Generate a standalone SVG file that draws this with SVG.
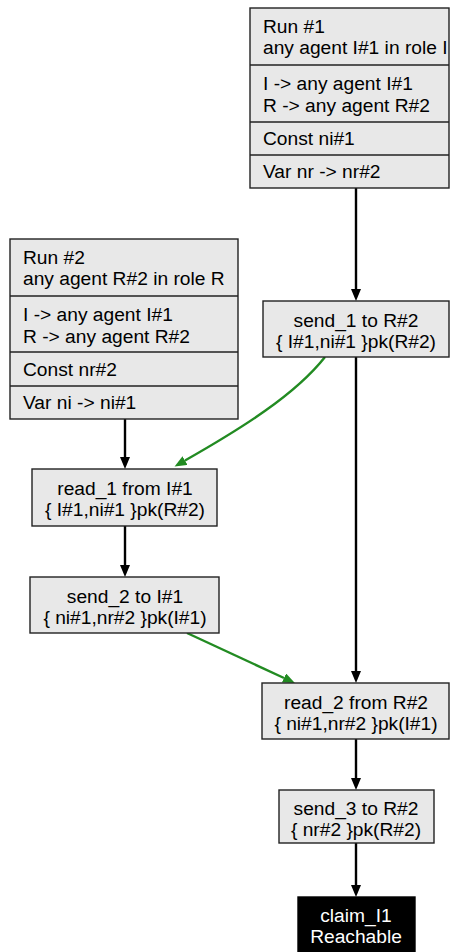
<svg xmlns="http://www.w3.org/2000/svg" width="450" height="952" viewBox="0 0 450 952">
<style>
.box{fill:#e8e8e8;stroke:#222;stroke-width:1.4}
.dark{fill:#000;stroke:#000;stroke-width:1.4}
text{font-family:"Liberation Sans",Arial,sans-serif;font-size:19.2px;fill:#000}
.c{text-anchor:middle}
.w{fill:#fff}
.e{fill:none;stroke:#000;stroke-width:2.4}
.g{fill:none;stroke:#228b22;stroke-width:2.4}
</style>
<defs>
<marker id="ab" markerUnits="userSpaceOnUse" markerWidth="13" markerHeight="11" refX="0" refY="5" orient="auto"><path d="M0,0 L12,5 L0,10 z" fill="#000"/></marker>
<marker id="ag" markerUnits="userSpaceOnUse" markerWidth="13" markerHeight="11" refX="0" refY="5" orient="auto"><path d="M0,0 L12,5 L0,10 z" fill="#228b22"/></marker>
</defs>
<g id="edges">
<path class="e" d="M356,188 V289" marker-end="url(#ab)"/>
<path class="e" d="M125,419 V457" marker-end="url(#ab)"/>
<path class="e" d="M125,526 V565" marker-end="url(#ab)"/>
<path class="e" d="M356,357 V671" marker-end="url(#ab)"/>
<path class="e" d="M356,739 V778" marker-end="url(#ab)"/>
<path class="e" d="M356,843 V885" marker-end="url(#ab)"/>
<path class="g" d="M325,357 C295,395 242,428 185,460.5" marker-end="url(#ag)"/>
<path class="g" d="M187,633 L284,678" marker-end="url(#ag)"/>
</g>
<g id="run1">
<rect class="box" x="250" y="8" width="199" height="180"/>
<path d="M250,65 H449 M250,122 H449 M250,155 H449" stroke="#222" stroke-width="1.4"/>
<text x="263" y="33">Run #1</text>
<text x="263" y="54">any agent I#1 in role I</text>
<text x="263" y="90">I -&gt; any agent I#1</text>
<text x="263" y="112">R -&gt; any agent R#2</text>
<text x="263" y="145">Const ni#1</text>
<text x="263" y="178">Var nr -&gt; nr#2</text>
</g>
<g id="run2">
<rect class="box" x="10" y="239" width="228" height="180"/>
<path d="M10,296 H238 M10,352 H238 M10,386 H238" stroke="#222" stroke-width="1.4"/>
<text x="23" y="264">Run #2</text>
<text x="23" y="285">any agent R#2 in role R</text>
<text x="23" y="321">I -&gt; any agent I#1</text>
<text x="23" y="343">R -&gt; any agent R#2</text>
<text x="23" y="376">Const nr#2</text>
<text x="23" y="409">Var ni -&gt; ni#1</text>
</g>
<g id="send1">
<rect class="box" x="263" y="301" width="186" height="56"/>
<text class="c" x="356" y="327">send_1 to R#2</text>
<text class="c" x="356" y="348">{ I#1,ni#1 }pk(R#2)</text>
</g>
<g id="read1">
<rect class="box" x="32" y="469" width="185" height="57"/>
<text class="c" x="125" y="495">read_1 from I#1</text>
<text class="c" x="125" y="516">{ I#1,ni#1 }pk(R#2)</text>
</g>
<g id="send2">
<rect class="box" x="30" y="577" width="189" height="56"/>
<text class="c" x="125" y="603">send_2 to I#1</text>
<text class="c" x="125" y="624">{ ni#1,nr#2 }pk(I#1)</text>
</g>
<g id="read2">
<rect class="box" x="262" y="683" width="187" height="56"/>
<text class="c" x="356" y="709">read_2 from R#2</text>
<text class="c" x="356" y="730">{ ni#1,nr#2 }pk(I#1)</text>
</g>
<g id="send3">
<rect class="box" x="279" y="790" width="155" height="53"/>
<text class="c" x="356" y="815">send_3 to R#2</text>
<text class="c" x="356" y="836">{ nr#2 }pk(R#2)</text>
</g>
<g id="claim">
<rect class="dark" x="298" y="897" width="117" height="60"/>
<text class="c w" x="356" y="922">claim_I1</text>
<text class="c w" x="356" y="943">Reachable</text>
</g>
</svg>
